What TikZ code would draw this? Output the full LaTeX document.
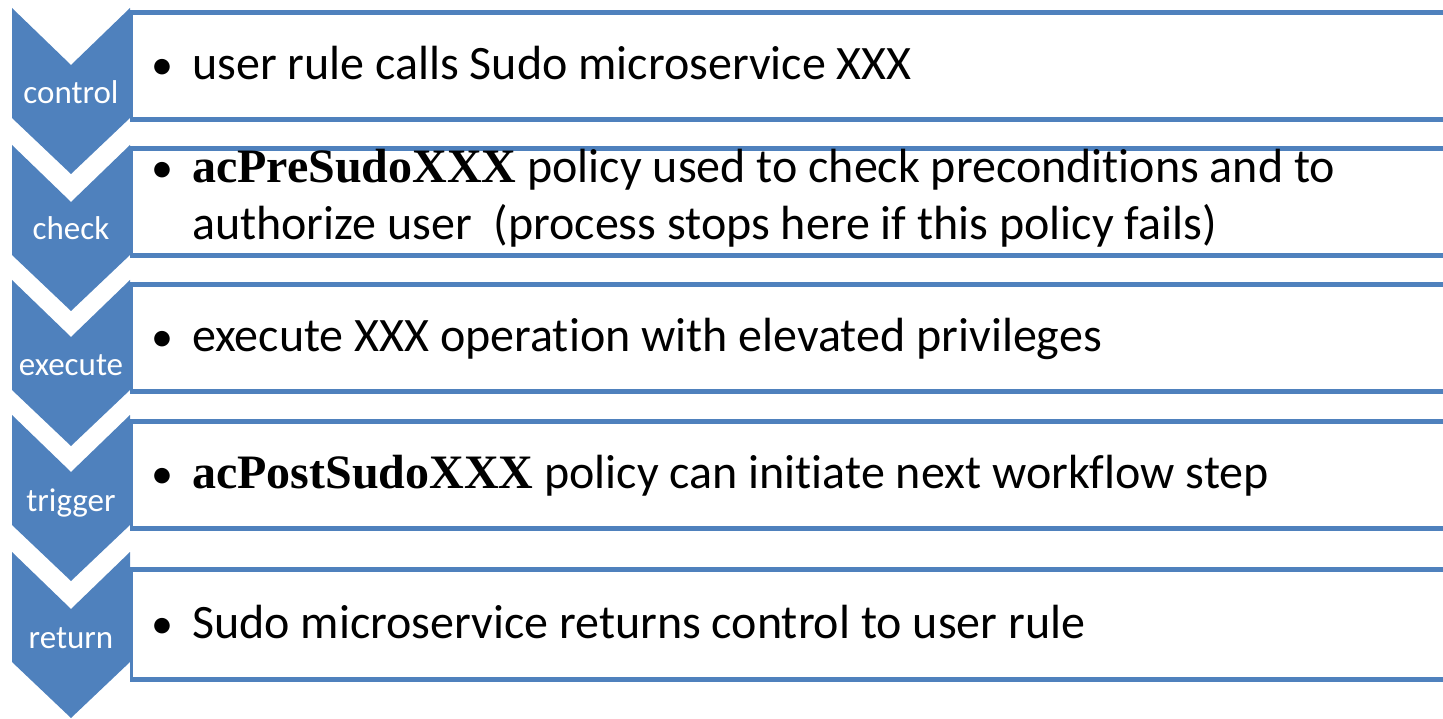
\documentclass[tikz,border=0pt]{standalone}
\usepackage{fontspec}
\setmainfont{Carlito}[Ligatures=NoCommon]
\newfontfamily\tnr{Liberation Serif}
\usetikzlibrary{fit}
\definecolor{sblue}{HTML}{4F81BD}
\newcommand{\kw}[1]{{\tnr\bfseries #1}}
\begin{document}
\begin{tikzpicture}[x=1pt,y=-1pt,
  chev/.style={fill=sblue},
  chevlabel/.style={text=white, font=\fontsize{33}{40}\selectfont, anchor=base, inner sep=0pt},
  listbox/.style={draw=sblue, line width=2.5pt, fill=white, inner sep=0pt},
  boxedge/.style={draw=sblue, line width=5pt},
  bodytext/.style={font=\fontsize{48}{57}\selectfont, anchor=base west, inner sep=0pt},
  bulletmark/.style={font=\fontsize{44}{57}\selectfont, anchor=base, inner sep=0pt}]
\useasboundingbox (0,0) rectangle (1443,719);
\clip (0,0) rectangle (1443,719);
% boxes
\foreach \i/\t/\b in {1/14/118.5, 2/149.5/254.5, 3/285.5/390.5, 4/422.5/527.5, 5/570.5/678.5}{
  \node[listbox, fit={(131.5,\t) (1470,\b)}] (box\i) {};
  \draw[boxedge] (box\i.north west) -- (box\i.north east);
  \draw[boxedge] (box\i.south west) -- (box\i.south east);
}
% chevrons
\foreach \i/\T in {1/8, 2/145, 3/280, 4/415, 5/552}{
  \fill[chev] (12,\T) -- (71,\T+57) -- (130,\T) -- (130,\T+110) -- (71,\T+166) -- (12,\T+110) -- cycle;
}
\node[chevlabel] (l1) at (71,104) {control};
\node[chevlabel] (l2) at (71,240) {check};
\node[chevlabel] (l3) at (71,375) {execute};
\node[chevlabel] (l4) at (71,511) {trigger};
\node[chevlabel] (l5) at (71,648) {return};
% texts
\node[bulletmark] (d1) at (162,80) {•};
\node[bodytext] (t1) at (192,80) {user rule calls Sudo microservice XXX};
\node[bulletmark] (d2) at (162,183) {•};
\node[bodytext] (t2a) at (192,183) {\kw{acPreSudoXXX} policy used to check preconditions and to};
\node[bodytext] (t2b) at (192,240) {authorize user\ \ (process stops here if this policy fails)};
\node[bulletmark] (d3) at (162,351) {•};
\node[bodytext] (t3) at (192,351) {execute XXX operation with elevated privileges};
\node[bulletmark] (d4) at (162,488) {•};
\node[bodytext] (t4) at (192,488) {\kw{acPostSudoXXX} policy can initiate next workflow step};
\node[bulletmark] (d5) at (162,638) {•};
\node[bodytext] (t5) at (192,638) {Sudo microservice returns control to user rule};
\end{tikzpicture}
\end{document}
